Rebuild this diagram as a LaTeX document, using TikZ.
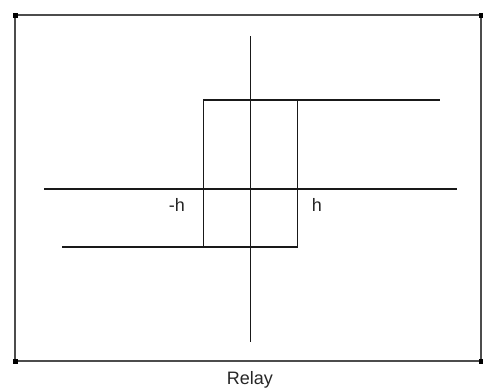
\documentclass[tikz,border=0pt]{standalone}
\usepackage{fontspec}
\setmainfont{Liberation Sans}
\begin{document}
\begin{tikzpicture}[x=1pt,y=-1pt,
  ln/.style={line width=1.6pt,draw=black!90},
  frame/.style={line width=2pt,draw=black!70},
  mk/.style={fill=black,minimum size=5pt,inner sep=0pt,draw=none},
  lbl/.style={font=\fontsize{18}{21}\selectfont,text=black!85,inner sep=0pt}]
\useasboundingbox (0,0) rectangle (483,391);
\coordinate (tl) at (15,15);
\coordinate (tr) at (481,15);
\coordinate (bl) at (15,361);
\coordinate (br) at (481,361);
\draw[frame] (tl) -- (tr) -- (br) -- (bl) -- cycle;
\node[mk] at (tl) {};
\node[mk] at (tr) {};
\node[mk] at (bl) {};
\node[mk] at (br) {};
% axes
\coordinate (vt) at (250.5,36);
\coordinate (vb) at (250.5,342);
\coordinate (hl) at (44,189);
\coordinate (hr) at (457,189);
\draw[ln] (vt) -- (vb);
\draw[ln] (hl) -- (hr);
% hysteresis
\coordinate (a) at (62,247);
\coordinate (b) at (297.5,247);
\coordinate (c) at (297.5,100);
\coordinate (d) at (440,100);
\coordinate (e) at (203.5,100);
\coordinate (f) at (203.5,247);
\draw[ln] (a) -- (b) -- (c) -- (d);
\draw[ln] (f) -- (e) -- (c);
\node[lbl] (mh) at (177,205) {-h};
\node[lbl] (ph) at (317,205) {h};
\node[lbl] (title) at (250,380) {Relay};
\end{tikzpicture}
\end{document}
